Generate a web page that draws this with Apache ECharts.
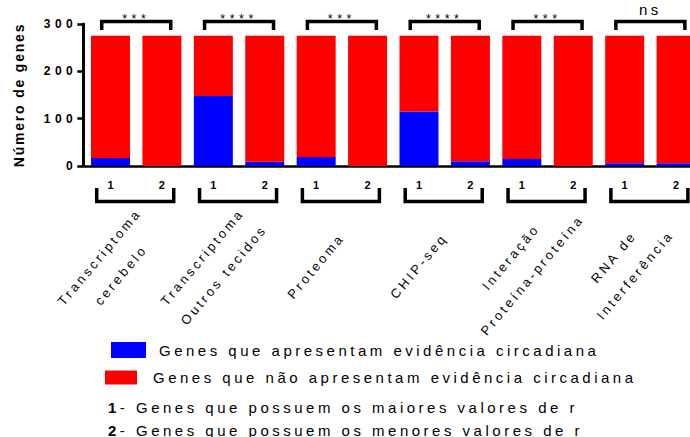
<!DOCTYPE html>
<html>
<head>
<meta charset="utf-8">
<script src="https://cdn.jsdelivr.net/npm/echarts@6/dist/echarts.min.js"></script>
<style>
  html, body { margin: 0; padding: 0; background: #fff; }
  #chart { width: 690px; height: 437px; }
  /* espaçamento entre letras como no original */
  #chart text[style*="12px"] { letter-spacing: 4.5px; }
  #chart text[style*="12.5px"] { letter-spacing: 4.5px; }
  #chart text[style*="13px"] { letter-spacing: 3px; }
  #chart text[style*="14px"] { letter-spacing: 1.8px; }
  #chart text[style*="15px"] { letter-spacing: 3.5px; }
</style>
</head>
<body>
<div id="chart"></div>
<script>
const grupos = ['Transcriptoma\ncerebelo', 'Transcriptoma\nOutros tecidos', 'Proteoma', 'CHIP-seq', 'Interação\nProteína-proteína', 'RNA de\nInterferência']
const postos = ['1', '2']
const comEvidencia = [17, 0, 148, 9, 19, 0, 115, 10, 15, 0, 6, 6]
const semEvidencia = [258, 275, 127, 266, 256, 275, 160, 265, 260, 275, 269, 269]
const significancia = ['***', '****', '***', '****', '***', 'ns']
const nomeAzul = 'Genes que apresentam evidência circadiana'
const nomeVermelho = 'Genes que não apresentam evidência circadiana'
const notas = ['{n|1}- Genes que possuem os maiores valores de r', '{n|2}- Genes que possuem os menores valores de r']

const fonte = 'Liberation Sans'
const categorias = []
grupos.forEach((g, i) => postos.forEach(p => categorias.push(i + '-' + p)))

function colchete(pontos) {
  return { type: 'polyline', shape: { points: pontos }, style: { stroke: '#000', lineWidth: 3.5, fill: 'none', lineJoin: 'miter' } }
}

function desenhaGrupo(params, api) {
  let i = params.dataIndex
  let base = api.coord([i, 0])
  let topo = api.coord([i, 300])
  let x = base[0]
  let sig = significancia[i]
  let ns = sig === 'ns'
  return {
    type: 'group',
    children: [
      colchete([[x - 39.5, base[1] + 22], [x - 39.5, base[1] + 35.5], [x + 37.5, base[1] + 35.5], [x + 37.5, base[1] + 22]]),
      colchete([[x - 34.5, topo[1] + 6], [x - 34.5, topo[1] - 2.5], [x + 34.5, topo[1] - 2.5], [x + 34.5, topo[1] + 6]]),
      {
        type: 'text', x: x, y: topo[1] - (ns ? 14.4 : 5.4),
        style: { text: sig, font: (ns ? '15px' : '12.5px') + ' "' + fonte + '"', fill: '#000', align: 'center', verticalAlign: 'middle' }
      },
      {
        type: 'text', x: x - 26, y: base[1] + 100, rotation: 50 * Math.PI / 180,
        style: { text: grupos[i], font: '13px "' + fonte + '"', lineHeight: 28, fill: '#000', align: 'center', verticalAlign: 'middle' }
      }
    ]
  }
}

let chart = echarts.init(document.getElementById('chart'), null, { renderer: 'svg' })
chart.setOption({
  animation: false,
  textStyle: { fontFamily: fonte },
  grid: { left: 84.8, top: 24, width: 617, height: 142, outerBoundsMode: 'none' },
  title: notas.map((t, k) => ({
    text: t, left: 108, top: 400 + k * 22.5, padding: 0,
    textStyle: { fontSize: 15, fontWeight: 'normal', color: '#000', fontFamily: fonte,
      rich: { n: { fontSize: 15, fontWeight: 'bold', color: '#000', fontFamily: fonte, padding: [0, 3.5, 0, 0] } } }
  })),
  legend: [
    { data: [nomeAzul], left: 111, top: 342, padding: 0, itemWidth: 35, itemHeight: 16, icon: 'rect', selectedMode: false,
      textStyle: { fontSize: 15, color: '#000', fontFamily: fonte, padding: [0, 0, 0, 8] } },
    { data: [nomeVermelho], left: 105, top: 370, padding: 0, itemWidth: 32, itemHeight: 14, icon: 'rect', selectedMode: false,
      textStyle: { fontSize: 15, color: '#000', fontFamily: fonte, padding: [0, 0, 0, 11] } }
  ],
  xAxis: [
    {
      type: 'category', data: categorias,
      axisLine: { lineStyle: { color: '#000', width: 2.5 } },
      axisTick: { alignWithLabel: true, length: 7, lineStyle: { color: '#000', width: 2.5 } },
      axisLabel: { interval: 0, formatter: v => v.split('-')[1], fontSize: 11, fontWeight: 'bold', color: '#000', margin: 13 }
    },
    { type: 'category', data: grupos, show: false }
  ],
  yAxis: {
    type: 'value', min: 0, max: 300, interval: 100, offset: 1.5,
    name: 'Número de genes', nameLocation: 'middle', nameGap: 57,
    nameTextStyle: { fontSize: 14, fontWeight: 'bold', color: '#000', fontFamily: fonte },
    axisLine: { show: true, lineStyle: { color: '#000', width: 3 } },
    axisTick: { show: true, length: 6, lineStyle: { color: '#000', width: 2.5 } },
    axisLabel: { fontSize: 12, fontWeight: 'bold', color: '#000', margin: 6 },
    splitLine: { show: false }
  },
  series: [
    { name: nomeAzul, type: 'bar', stack: 'total', data: comEvidencia, barWidth: 39, itemStyle: { color: '#0000FF' } },
    { name: nomeVermelho, type: 'bar', stack: 'total', data: semEvidencia, barWidth: 39, itemStyle: { color: '#FF0000' } },
    { type: 'custom', xAxisIndex: 1, yAxisIndex: 0, silent: true, clip: false, data: grupos.map((g, i) => [i, 0]), renderItem: desenhaGrupo }
  ]
})
</script>
</body>
</html>
